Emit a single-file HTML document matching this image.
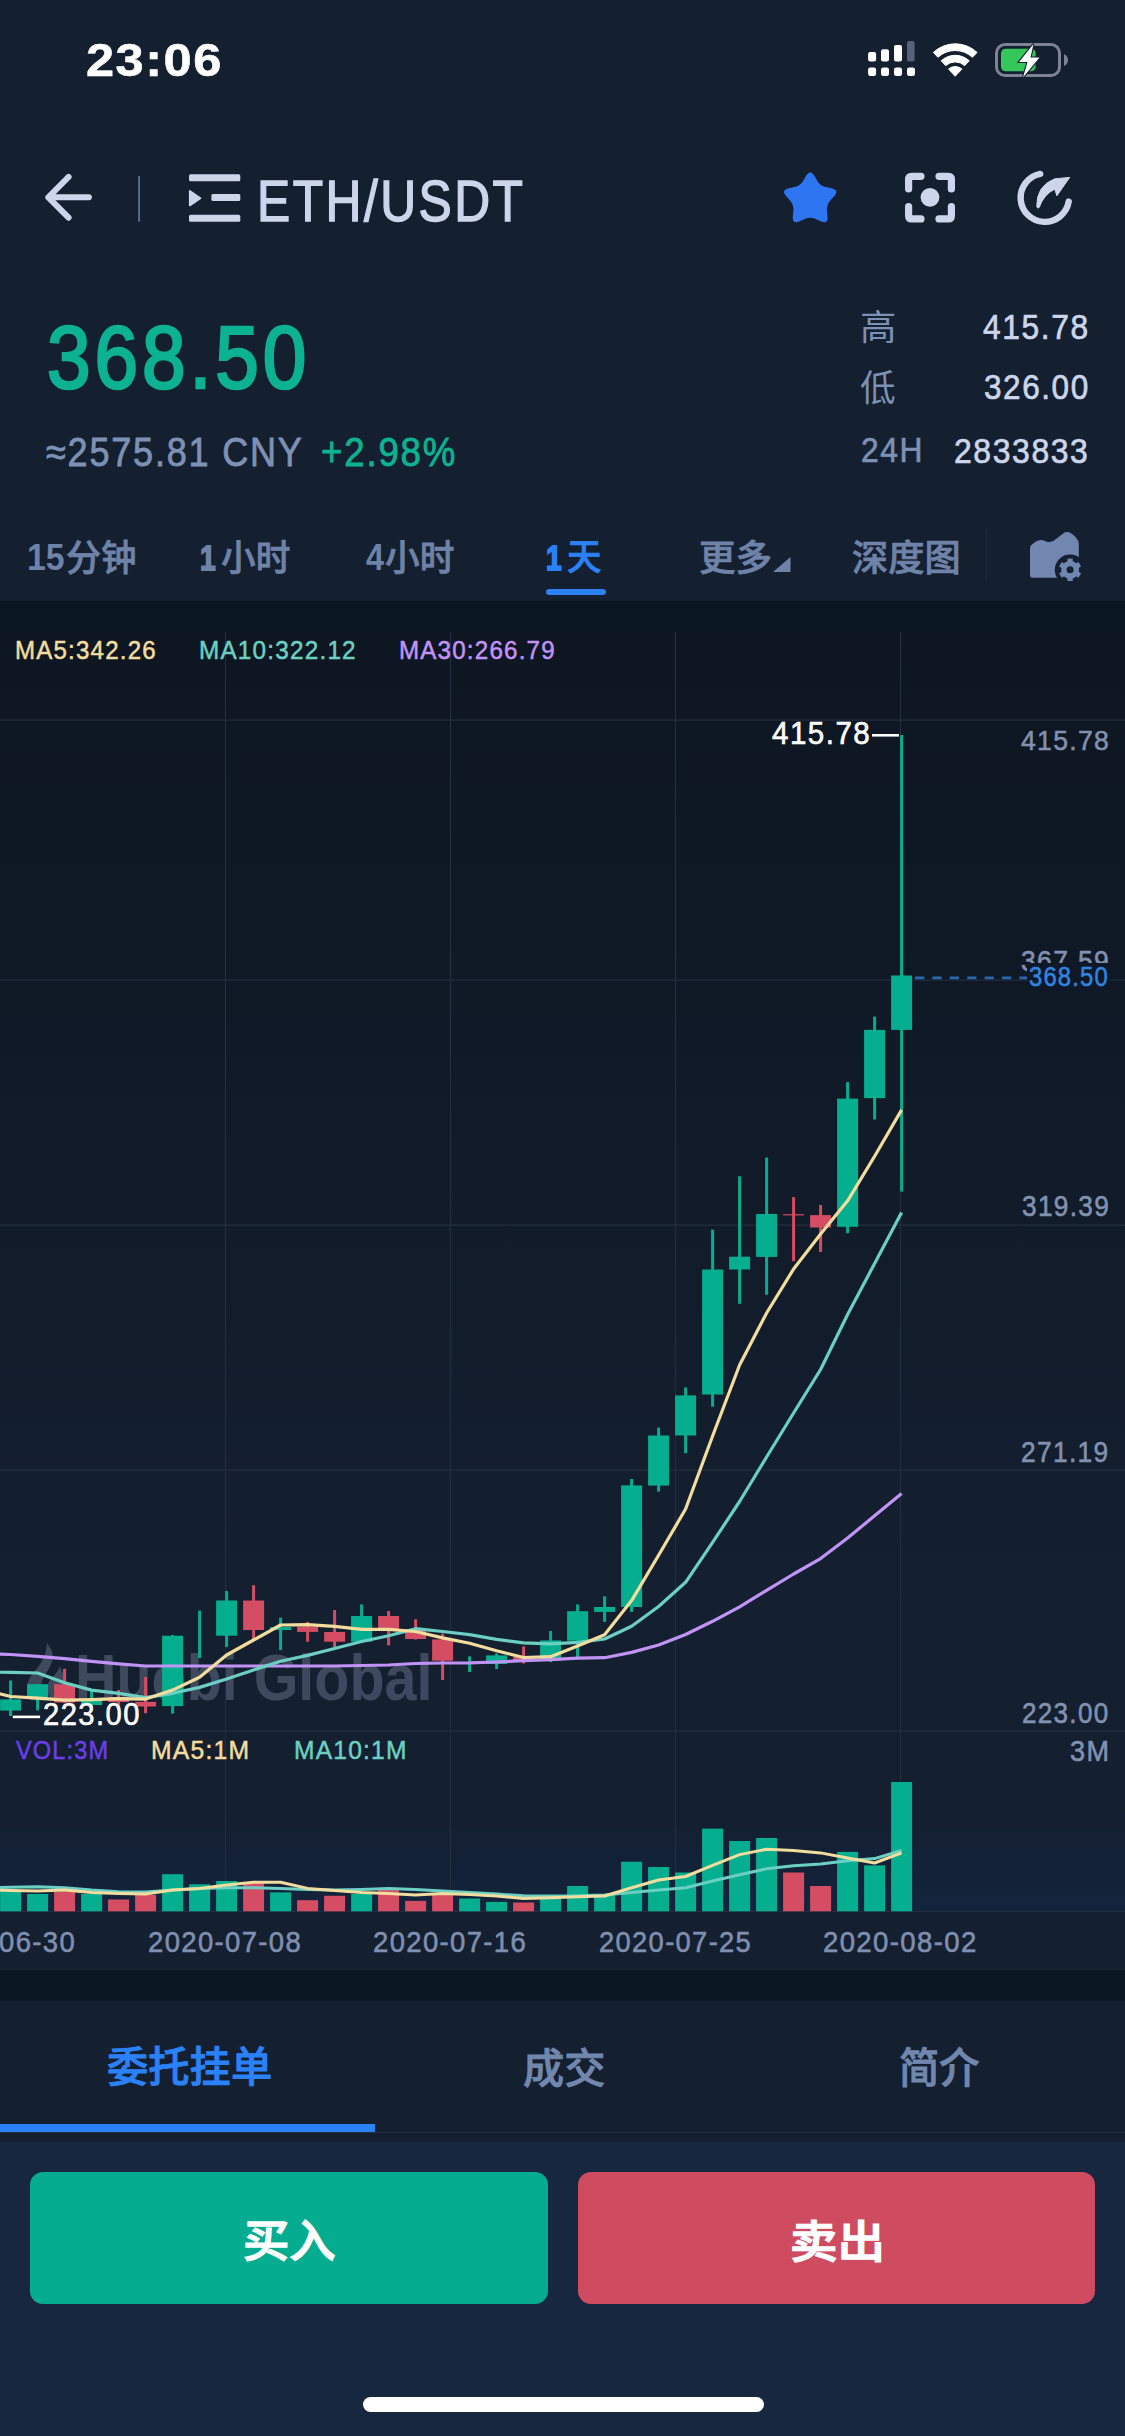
<!DOCTYPE html>
<html lang="zh-CN"><head><meta charset="utf-8"><title>ETH/USDT</title>
<style>
html,body{margin:0;padding:0;background:#141f30;}
body{width:1125px;height:2436px;position:relative;overflow:hidden;font-family:'Liberation Sans', 'Noto Sans CJK SC', sans-serif;}
.abs{position:absolute;}
.t{position:absolute;line-height:1;white-space:pre;transform-origin:0 0;display:block;}
svg{position:absolute;left:0;top:0;}
</style></head><body>
<div class="abs" style="left:0;top:0;width:1125px;height:601px;background:#141f30"></div>
<div class="abs" style="left:0;top:601px;width:1125px;height:1400px;background:#0a1722"></div>
<div class="abs" style="left:0;top:632px;width:1125px;height:1337px;background:linear-gradient(180deg,#0d1621 0%,#141f30 72.4%,#141f30 100%)"></div>
<div class="abs" style="left:0;top:1810px;width:1125px;height:101px;background:linear-gradient(180deg,rgba(18,38,66,0) 0%,rgba(18,38,66,0.7) 100%)"></div>
<div class="abs" style="left:0;top:2001px;width:1125px;height:141px;background:#141f30"></div>
<div class="abs" style="left:0;top:2131.6px;width:1125px;height:1.4px;background:#242f40"></div>
<div class="abs" style="left:0;top:1969.3px;width:1125px;height:1.2px;background:#1b2735"></div>
<div class="abs" style="left:0;top:2142px;width:1125px;height:294px;background:#182740"></div>
<span class="t" style="left:75.27px;top:1645.94px;font-size:64.93px;color:#8893ad;font-weight:700;font-family:'Liberation Sans', sans-serif;transform:scaleX(0.8849);opacity:0.36;">Huobi Global</span>
<svg width="1125" height="2436" viewBox="0 0 1125 2436">
<g fill="#8893ad" opacity="0.36"><path d="M46.8,1642 C49,1647 54.5,1652 52.5,1660 C50,1670 42,1676 41,1686 C40.5,1692 43,1697 46,1700.5 L31,1700.5 C25,1694 26,1685 30,1678 C36,1668 47,1660 46.8,1642 Z"/><path d="M59.6,1666 C61,1670 65,1674 64.5,1682 C64,1690 58,1697 52,1700.5 C48,1696 46,1690 48,1684 C50,1677 58,1674 59.6,1666 Z"/></g>
<rect x="0" y="719.5" width="1125" height="1.2" fill="#232e3f"/><rect x="0" y="979.5" width="1125" height="1.2" fill="#232e3f"/><rect x="0" y="1224.5" width="1125" height="1.2" fill="#232e3f"/><rect x="0" y="1469.5" width="1125" height="1.2" fill="#232e3f"/><rect x="0" y="1730.5" width="1125" height="1.2" fill="#232e3f"/><rect x="0" y="1911.0" width="1125" height="1.2" fill="#232e3f"/><rect x="224.9" y="632" width="1.2" height="1280" fill="#232e3f"/><rect x="449.9" y="632" width="1.2" height="1280" fill="#232e3f"/><rect x="674.9" y="632" width="1.2" height="1280" fill="#232e3f"/><rect x="899.9" y="632" width="1.2" height="1280" fill="#232e3f"/>
<rect x="900.1" y="735.0" width="3.0" height="456.6" fill="#06ae90"/><rect x="891.1" y="975.5" width="21.0" height="54.4" fill="#06ae90"/><rect x="873.1" y="1016.6" width="3.0" height="102.9" fill="#06ae90"/><rect x="864.1" y="1029.9" width="21.0" height="68.2" fill="#06ae90"/><rect x="846.1" y="1082.1" width="3.0" height="151.1" fill="#06ae90"/><rect x="837.1" y="1098.6" width="21.0" height="128.2" fill="#06ae90"/><rect x="819.1" y="1205.0" width="3.0" height="47.0" fill="#d54d63"/><rect x="810.1" y="1215.1" width="21.0" height="12.4" fill="#d54d63"/><rect x="792.1" y="1197.2" width="3.0" height="64.0" fill="#d54d63"/><rect x="783.1" y="1214.2" width="21.0" height="1.2" fill="#d54d63"/><rect x="765.1" y="1157.5" width="3.0" height="137.2" fill="#06ae90"/><rect x="756.1" y="1214.0" width="21.0" height="42.9" fill="#06ae90"/><rect x="738.1" y="1176.3" width="3.0" height="127.5" fill="#06ae90"/><rect x="729.1" y="1256.7" width="21.0" height="12.8" fill="#06ae90"/><rect x="711.1" y="1229.6" width="3.0" height="177.1" fill="#06ae90"/><rect x="702.1" y="1269.5" width="21.0" height="125.0" fill="#06ae90"/><rect x="684.1" y="1387.5" width="3.0" height="65.7" fill="#06ae90"/><rect x="675.1" y="1395.4" width="21.0" height="40.1" fill="#06ae90"/><rect x="657.1" y="1427.6" width="3.0" height="64.0" fill="#06ae90"/><rect x="648.1" y="1435.5" width="21.0" height="50.1" fill="#06ae90"/><rect x="630.1" y="1479.0" width="3.0" height="132.9" fill="#06ae90"/><rect x="621.1" y="1485.4" width="21.0" height="121.6" fill="#06ae90"/><rect x="603.1" y="1596.3" width="3.0" height="25.6" fill="#06ae90"/><rect x="594.1" y="1607.0" width="21.0" height="4.9" fill="#06ae90"/><rect x="576.1" y="1604.4" width="3.0" height="55.0" fill="#06ae90"/><rect x="567.1" y="1611.2" width="21.0" height="29.5" fill="#06ae90"/><rect x="549.1" y="1631.0" width="3.0" height="31.0" fill="#06ae90"/><rect x="540.1" y="1640.4" width="21.0" height="20.1" fill="#06ae90"/><rect x="522.1" y="1646.4" width="3.0" height="17.1" fill="#d54d63"/><rect x="513.1" y="1657.0" width="21.0" height="3.0" fill="#d54d63"/><rect x="495.1" y="1653.4" width="3.0" height="15.6" fill="#06ae90"/><rect x="486.1" y="1655.4" width="21.0" height="8.6" fill="#06ae90"/><rect x="468.1" y="1656.4" width="3.0" height="15.6" fill="#06ae90"/><rect x="441.1" y="1633.6" width="3.0" height="46.4" fill="#d54d63"/><rect x="432.1" y="1639.4" width="21.0" height="21.3" fill="#d54d63"/><rect x="414.1" y="1619.3" width="3.0" height="20.2" fill="#d54d63"/><rect x="405.1" y="1629.3" width="21.0" height="9.7" fill="#d54d63"/><rect x="387.1" y="1611.0" width="3.0" height="34.3" fill="#d54d63"/><rect x="378.1" y="1616.0" width="21.0" height="13.3" fill="#d54d63"/><rect x="360.1" y="1604.4" width="3.0" height="37.3" fill="#06ae90"/><rect x="351.1" y="1616.0" width="21.0" height="25.7" fill="#06ae90"/><rect x="333.1" y="1610.0" width="3.0" height="37.0" fill="#d54d63"/><rect x="324.1" y="1632.0" width="21.0" height="9.7" fill="#d54d63"/><rect x="306.1" y="1621.9" width="3.0" height="19.8" fill="#d54d63"/><rect x="297.1" y="1626.6" width="21.0" height="5.3" fill="#d54d63"/><rect x="279.1" y="1617.6" width="3.0" height="32.4" fill="#06ae90"/><rect x="270.1" y="1627.0" width="21.0" height="3.0" fill="#06ae90"/><rect x="252.1" y="1585.2" width="3.0" height="54.8" fill="#d54d63"/><rect x="243.1" y="1600.5" width="21.0" height="29.5" fill="#d54d63"/><rect x="225.1" y="1591.0" width="3.0" height="56.0" fill="#06ae90"/><rect x="216.1" y="1600.5" width="21.0" height="35.2" fill="#06ae90"/><rect x="198.1" y="1610.6" width="3.0" height="47.5" fill="#06ae90"/><rect x="171.1" y="1635.0" width="3.0" height="78.6" fill="#06ae90"/><rect x="162.1" y="1635.7" width="21.0" height="70.4" fill="#06ae90"/><rect x="144.1" y="1677.0" width="3.0" height="36.2" fill="#d54d63"/><rect x="135.1" y="1701.9" width="21.0" height="4.6" fill="#d54d63"/><rect x="117.1" y="1690.0" width="3.0" height="18.0" fill="#d54d63"/><rect x="108.1" y="1697.0" width="21.0" height="5.0" fill="#d54d63"/><rect x="90.1" y="1691.0" width="3.0" height="17.0" fill="#06ae90"/><rect x="81.1" y="1699.7" width="21.0" height="5.3" fill="#06ae90"/><rect x="63.1" y="1668.8" width="3.0" height="34.2" fill="#d54d63"/><rect x="54.1" y="1684.2" width="21.0" height="18.3" fill="#d54d63"/><rect x="36.1" y="1684.0" width="3.0" height="26.4" fill="#06ae90"/><rect x="27.1" y="1684.2" width="21.0" height="13.8" fill="#06ae90"/><rect x="9.1" y="1680.5" width="3.0" height="35.5" fill="#06ae90"/><rect x="0.1" y="1699.4" width="21.0" height="11.2" fill="#06ae90"/><rect x="891.1" y="1782.0" width="21.0" height="129.3" fill="#06ae90"/><rect x="864.1" y="1865.4" width="21.0" height="45.9" fill="#06ae90"/><rect x="837.1" y="1851.9" width="21.0" height="59.4" fill="#06ae90"/><rect x="810.1" y="1886.0" width="21.0" height="25.3" fill="#d54d63"/><rect x="783.1" y="1872.5" width="21.0" height="38.8" fill="#d54d63"/><rect x="756.1" y="1838.0" width="21.0" height="73.3" fill="#06ae90"/><rect x="729.1" y="1841.0" width="21.0" height="70.3" fill="#06ae90"/><rect x="702.1" y="1828.6" width="21.0" height="82.7" fill="#06ae90"/><rect x="675.1" y="1872.5" width="21.0" height="38.8" fill="#06ae90"/><rect x="648.1" y="1867.0" width="21.0" height="44.3" fill="#06ae90"/><rect x="621.1" y="1861.7" width="21.0" height="49.6" fill="#06ae90"/><rect x="594.1" y="1895.0" width="21.0" height="16.3" fill="#06ae90"/><rect x="567.1" y="1886.0" width="21.0" height="25.3" fill="#06ae90"/><rect x="540.1" y="1898.5" width="21.0" height="12.8" fill="#06ae90"/><rect x="513.1" y="1902.5" width="21.0" height="8.8" fill="#d54d63"/><rect x="486.1" y="1901.9" width="21.0" height="9.4" fill="#06ae90"/><rect x="459.1" y="1898.5" width="21.0" height="12.8" fill="#06ae90"/><rect x="432.1" y="1894.0" width="21.0" height="17.3" fill="#d54d63"/><rect x="405.1" y="1900.9" width="21.0" height="10.4" fill="#d54d63"/><rect x="378.1" y="1890.0" width="21.0" height="21.3" fill="#d54d63"/><rect x="351.1" y="1894.0" width="21.0" height="17.3" fill="#06ae90"/><rect x="324.1" y="1895.8" width="21.0" height="15.5" fill="#d54d63"/><rect x="297.1" y="1900.2" width="21.0" height="11.1" fill="#d54d63"/><rect x="270.1" y="1892.4" width="21.0" height="18.9" fill="#06ae90"/><rect x="243.1" y="1883.0" width="21.0" height="28.3" fill="#d54d63"/><rect x="216.1" y="1881.0" width="21.0" height="30.3" fill="#06ae90"/><rect x="189.1" y="1884.3" width="21.0" height="27.0" fill="#06ae90"/><rect x="162.1" y="1874.2" width="21.0" height="37.1" fill="#06ae90"/><rect x="135.1" y="1895.0" width="21.0" height="16.3" fill="#d54d63"/><rect x="108.1" y="1899.5" width="21.0" height="11.8" fill="#d54d63"/><rect x="81.1" y="1894.0" width="21.0" height="17.3" fill="#06ae90"/><rect x="54.1" y="1891.7" width="21.0" height="19.6" fill="#d54d63"/><rect x="27.1" y="1894.0" width="21.0" height="17.3" fill="#06ae90"/><rect x="0.1" y="1890.0" width="21.0" height="21.3" fill="#06ae90"/>
<polyline points="901.6,1493.4 874.6,1515.7 847.6,1538.1 820.6,1558.6 793.6,1574.0 766.6,1590.4 739.6,1606.8 712.6,1621.3 685.6,1634.5 658.6,1645.0 631.6,1652.4 604.6,1657.7 577.6,1658.2 550.6,1659.6 523.6,1660.7 496.6,1662.0 469.6,1662.8 442.6,1663.0 415.6,1663.5 388.6,1665.0 361.6,1665.5 334.6,1666.0 307.6,1666.0 280.6,1666.0 253.6,1666.0 226.6,1666.0 199.6,1666.0 172.6,1666.0 145.6,1666.0 118.6,1663.9 91.6,1661.3 64.6,1658.6 37.6,1656.4 10.6,1654.5 -16.4,1653.5" fill="none" stroke="#c293f6" stroke-width="3.2" stroke-linejoin="round"/><polyline points="901.6,1212.5 874.6,1263.5 847.6,1314.5 820.6,1369.5 793.6,1413.0 766.6,1457.0 739.6,1501.5 712.6,1542.4 685.6,1582.3 658.6,1606.5 631.6,1626.2 604.6,1639.0 577.6,1642.4 550.6,1643.9 523.6,1642.8 496.6,1639.4 469.6,1634.7 442.6,1631.5 415.6,1628.7 388.6,1635.7 361.6,1641.5 334.6,1648.5 307.6,1655.4 280.6,1661.3 253.6,1669.9 226.6,1679.0 199.6,1687.4 172.6,1693.3 145.6,1697.6 118.6,1693.3 91.6,1690.1 64.6,1682.7 37.6,1673.0 10.6,1672.4 -16.4,1672.0" fill="none" stroke="#6bd0c3" stroke-width="3.2" stroke-linejoin="round"/><polyline points="901.6,1109.9 874.6,1156.3 847.6,1200.8 820.6,1233.9 793.6,1269.0 766.6,1313.0 739.6,1365.0 712.6,1436.0 685.6,1509.0 658.6,1555.3 631.6,1600.6 604.6,1634.7 577.6,1646.0 550.6,1656.7 523.6,1657.5 496.6,1650.7 469.6,1643.2 442.6,1637.9 415.6,1631.5 388.6,1629.3 361.6,1629.3 334.6,1626.3 307.6,1624.6 280.6,1625.0 253.6,1640.0 226.6,1655.0 199.6,1677.3 172.6,1690.1 145.6,1699.1 118.6,1698.7 91.6,1699.7 64.6,1700.2 37.6,1698.2 10.6,1696.5 -16.4,1690.0" fill="none" stroke="#f3dd9e" stroke-width="3.2" stroke-linejoin="round"/><polyline points="901.6,1850.5 874.6,1858.6 847.6,1860.7 820.6,1864.0 793.6,1865.7 766.6,1868.8 739.6,1874.8 712.6,1881.0 685.6,1887.7 658.6,1890.0 631.6,1892.4 604.6,1895.0 577.6,1895.8 550.6,1896.0 523.6,1895.8 496.6,1894.0 469.6,1892.4 442.6,1891.0 415.6,1889.4 388.6,1888.4 361.6,1889.4 334.6,1890.0 307.6,1889.4 280.6,1888.4 253.6,1887.7 226.6,1887.7 199.6,1888.4 172.6,1890.0 145.6,1892.0 118.6,1891.7 91.6,1890.0 64.6,1887.7 37.6,1886.7 10.6,1887.2 -16.4,1887.7" fill="none" stroke="#6bd0c3" stroke-width="3" stroke-linejoin="round"/><polyline points="901.6,1852.9 874.6,1863.0 847.6,1858.0 820.6,1852.9 793.6,1850.5 766.6,1849.2 739.6,1854.6 712.6,1865.4 685.6,1876.5 658.6,1880.0 631.6,1887.7 604.6,1896.0 577.6,1896.8 550.6,1897.8 523.6,1898.5 496.6,1896.0 469.6,1894.4 442.6,1893.4 415.6,1895.0 388.6,1893.4 361.6,1892.4 334.6,1890.5 307.6,1888.4 280.6,1882.3 253.6,1882.3 226.6,1885.0 199.6,1888.4 172.6,1890.0 145.6,1894.0 118.6,1893.4 91.6,1892.4 64.6,1890.0 37.6,1891.0 10.6,1890.5 -16.4,1890.0" fill="none" stroke="#f3dd9e" stroke-width="3" stroke-linejoin="round"/>
<rect x="872" y="734" width="27" height="2.6" fill="#fff"/><rect x="12.8" y="1715.6" width="27.3" height="2.6" fill="#fff"/><line x1="915" y1="977.8" x2="1028" y2="977.8" stroke="#2968ad" stroke-width="2.8" stroke-dasharray="9.2 8.2"/>
</svg>
<span class="t" style="left:14.81px;top:637.25px;font-size:26.30px;color:#f3dd9e;font-weight:400;font-family:'Liberation Sans', sans-serif;transform:scaleX(0.9154);letter-spacing:0.05em;-webkit-text-stroke:0.02em #f3dd9e;">MA5:342.26</span>
<span class="t" style="left:199.30px;top:637.25px;font-size:26.30px;color:#6bd0c3;font-weight:400;font-family:'Liberation Sans', sans-serif;transform:scaleX(0.9235);letter-spacing:0.05em;-webkit-text-stroke:0.02em #6bd0c3;">MA10:322.12</span>
<span class="t" style="left:399.31px;top:637.25px;font-size:26.30px;color:#c293f6;font-weight:400;font-family:'Liberation Sans', sans-serif;transform:scaleX(0.9175);letter-spacing:0.05em;-webkit-text-stroke:0.02em #c293f6;">MA30:266.79</span>
<span class="t" style="left:1021.03px;top:727.01px;font-size:28.08px;color:#8291b0;font-weight:400;font-family:'Liberation Sans', sans-serif;transform:scaleX(0.9456);letter-spacing:0.05em;-webkit-text-stroke:0.02em #8291b0;">415.78</span>
<span class="t" style="left:1021.34px;top:946.62px;font-size:28.77px;color:#8291b0;font-weight:400;font-family:'Liberation Sans', sans-serif;transform:scaleX(0.9213);letter-spacing:0.05em;-webkit-text-stroke:0.02em #8291b0;">367.59</span>
<span class="t" style="left:1021.64px;top:1192.46px;font-size:29.18px;color:#8291b0;font-weight:400;font-family:'Liberation Sans', sans-serif;transform:scaleX(0.8988);letter-spacing:0.05em;-webkit-text-stroke:0.02em #8291b0;">319.39</span>
<span class="t" style="left:1021.25px;top:1437.32px;font-size:29.45px;color:#8291b0;font-weight:400;font-family:'Liberation Sans', sans-serif;transform:scaleX(0.8946);letter-spacing:0.05em;-webkit-text-stroke:0.02em #8291b0;">271.19</span>
<span class="t" style="left:1021.96px;top:1698.34px;font-size:29.32px;color:#8291b0;font-weight:400;font-family:'Liberation Sans', sans-serif;transform:scaleX(0.8886);letter-spacing:0.05em;-webkit-text-stroke:0.02em #8291b0;">223.00</span>
<span class="t" style="left:1069.62px;top:1737.40px;font-size:28.90px;color:#8291b0;font-weight:400;font-family:'Liberation Sans', sans-serif;transform:scaleX(0.9363);letter-spacing:0.05em;-webkit-text-stroke:0.02em #8291b0;">3M</span>
<span class="t" style="left:772.20px;top:718.08px;font-size:30.55px;color:#ffffff;font-weight:400;font-family:'Liberation Sans', sans-serif;transform:scaleX(0.9675);letter-spacing:0.05em;-webkit-text-stroke:0.02em #ffffff;">415.78</span>
<span class="t" style="left:42.53px;top:1699.86px;font-size:30.68px;color:#ffffff;font-weight:400;font-family:'Liberation Sans', sans-serif;transform:scaleX(0.9505);letter-spacing:0.05em;-webkit-text-stroke:0.02em #ffffff;">223.00</span>
<span class="t" style="left:15.94px;top:1738.26px;font-size:25.48px;color:#6a3fe8;font-weight:400;font-family:'Liberation Sans', sans-serif;transform:scaleX(0.9234);letter-spacing:0.05em;-webkit-text-stroke:0.02em #6a3fe8;">VOL:3M</span>
<span class="t" style="left:151.27px;top:1737.95px;font-size:25.83px;color:#f3dd9e;font-weight:400;font-family:'Liberation Sans', sans-serif;transform:scaleX(0.9551);letter-spacing:0.05em;-webkit-text-stroke:0.02em #f3dd9e;">MA5:1M</span>
<span class="t" style="left:294.28px;top:1738.26px;font-size:25.48px;color:#6bd0c3;font-weight:400;font-family:'Liberation Sans', sans-serif;transform:scaleX(0.9635);letter-spacing:0.05em;-webkit-text-stroke:0.02em #6bd0c3;">MA10:1M</span>
<span class="t" style="left:-77.60px;top:1928.43px;font-size:28.63px;color:#7f8fb0;font-weight:400;font-family:'Liberation Sans', sans-serif;transform:scaleX(0.9585);letter-spacing:0.05em;-webkit-text-stroke:0.02em #7f8fb0;">2020-06-30</span>
<span class="t" style="left:148.20px;top:1928.43px;font-size:28.63px;color:#7f8fb0;font-weight:400;font-family:'Liberation Sans', sans-serif;transform:scaleX(0.9588);letter-spacing:0.05em;-webkit-text-stroke:0.02em #7f8fb0;">2020-07-08</span>
<span class="t" style="left:373.20px;top:1928.43px;font-size:28.63px;color:#7f8fb0;font-weight:400;font-family:'Liberation Sans', sans-serif;transform:scaleX(0.9588);letter-spacing:0.05em;-webkit-text-stroke:0.02em #7f8fb0;">2020-07-16</span>
<span class="t" style="left:598.81px;top:1928.43px;font-size:28.63px;color:#7f8fb0;font-weight:400;font-family:'Liberation Sans', sans-serif;transform:scaleX(0.9528);letter-spacing:0.05em;-webkit-text-stroke:0.02em #7f8fb0;">2020-07-25</span>
<span class="t" style="left:822.90px;top:1928.43px;font-size:28.63px;color:#7f8fb0;font-weight:400;font-family:'Liberation Sans', sans-serif;transform:scaleX(0.9616);letter-spacing:0.05em;-webkit-text-stroke:0.02em #7f8fb0;">2020-08-02</span>
<div class="abs" style="left:1027px;top:962.5px;width:83px;height:27.5px;background:#0e1826"></div>
<span class="t" style="left:1029.40px;top:963.30px;font-size:27.40px;color:#2f86e0;font-weight:400;font-family:'Liberation Sans', sans-serif;transform:scaleX(0.8690);letter-spacing:0.05em;-webkit-text-stroke:0.02em #2f86e0;">368.50</span>
<div class="abs" style="left:546px;top:589.4px;width:59.5px;height:6px;border-radius:3px;background:#2b82f8"></div>
<div class="abs" style="left:985.8px;top:530px;width:1.3px;height:50px;background:#202b3e"></div>
<div class="abs" style="left:0;top:2124px;width:375px;height:8.2px;background:#2b82f8"></div>
<div class="abs" style="left:30.4px;top:2172px;width:518px;height:131.7px;border-radius:13px;background:#05ac8f"></div>
<div class="abs" style="left:578.3px;top:2172px;width:516.4px;height:131.7px;border-radius:13px;background:#cf4c60"></div>
<div class="abs" style="left:362.7px;top:2397px;width:401.3px;height:15px;border-radius:7.5px;background:#fff"></div>
<span class="t" style="left:86.08px;top:36.61px;font-size:46.39px;color:#ffffff;font-weight:700;font-family:'Liberation Sans', sans-serif;transform:scaleX(1.0894);letter-spacing:0.03em;-webkit-text-stroke:0.012em #ffffff;">23:06</span>
<span class="t" style="left:256.52px;top:173.21px;font-size:57.08px;color:#ccd5ea;font-weight:400;font-family:'Liberation Sans', sans-serif;transform:scaleX(0.8709);letter-spacing:0.05em;-webkit-text-stroke:0.025em #ccd5ea;">ETH/USDT</span>
<span class="t" style="left:47.13px;top:313.81px;font-size:88.38px;color:#0cb291;font-weight:400;font-family:'Liberation Sans', sans-serif;transform:scaleX(0.8872);letter-spacing:0.05em;-webkit-text-stroke:0.03em #0cb291;">368.50</span>
<span class="t" style="left:46.26px;top:431.73px;font-size:40.55px;color:#7d91b4;font-weight:400;font-family:'Liberation Sans', sans-serif;transform:scaleX(0.8883);letter-spacing:0.05em;-webkit-text-stroke:0.02em #7d91b4;">≈2575.81 CNY</span>
<span class="t" style="left:320.54px;top:431.73px;font-size:40.55px;color:#0cb291;font-weight:400;font-family:'Liberation Sans', sans-serif;transform:scaleX(0.9030);letter-spacing:0.05em;-webkit-text-stroke:0.02em #0cb291;">+2.98%</span>
<span class="t" style="left:859.82px;top:310.40px;font-size:35.38px;color:#7d91b4;font-weight:400;font-family:'Liberation Sans', 'Noto Sans CJK SC', sans-serif;transform:scaleX(1.0279);">高</span>
<span class="t" style="left:860.29px;top:371.42px;font-size:36.32px;color:#7d91b4;font-weight:400;font-family:'Liberation Sans', 'Noto Sans CJK SC', sans-serif;transform:scaleX(0.9817);">低</span>
<span class="t" style="left:860.73px;top:432.81px;font-size:35.45px;color:#7d91b4;font-weight:400;font-family:'Liberation Sans', sans-serif;transform:scaleX(0.8965);letter-spacing:0.05em;-webkit-text-stroke:0.02em #7d91b4;">24H</span>
<span class="t" style="left:983.18px;top:308.75px;font-size:35.21px;color:#ccd5ea;font-weight:400;font-family:'Liberation Sans', sans-serif;transform:scaleX(0.9022);letter-spacing:0.05em;-webkit-text-stroke:0.02em #ccd5ea;">415.78</span>
<span class="t" style="left:983.91px;top:370.41px;font-size:35.48px;color:#ccd5ea;font-weight:400;font-family:'Liberation Sans', sans-serif;transform:scaleX(0.8876);letter-spacing:0.05em;-webkit-text-stroke:0.02em #ccd5ea;">326.00</span>
<span class="t" style="left:954.42px;top:432.85px;font-size:35.21px;color:#ccd5ea;font-weight:400;font-family:'Liberation Sans', sans-serif;transform:scaleX(0.9066);letter-spacing:0.05em;-webkit-text-stroke:0.02em #ccd5ea;">2833833</span>
<span class="t" style="left:26.67px;top:538.84px;font-size:37.14px;color:#6f83a8;font-weight:700;font-family:'Liberation Sans', sans-serif;transform:scaleX(0.9088);">15</span>
<span class="t" style="left:66.42px;top:541.36px;font-size:36.34px;color:#6f83a8;font-weight:500;font-family:'Liberation Sans', 'Noto Sans CJK SC', sans-serif;transform:scaleX(0.9697);-webkit-text-stroke:0.02em #6f83a8;">分钟</span>
<span class="t" style="left:199.70px;top:540.03px;font-size:35.14px;color:#6f83a8;font-weight:700;font-family:'Liberation Sans', sans-serif;transform:scaleX(0.8000);-webkit-text-stroke:0.05em #6f83a8;">1</span>
<span class="t" style="left:221.48px;top:541.18px;font-size:36.72px;color:#6f83a8;font-weight:500;font-family:'Liberation Sans', 'Noto Sans CJK SC', sans-serif;transform:scaleX(0.9448);-webkit-text-stroke:0.02em #6f83a8;">小时</span>
<span class="t" style="left:365.51px;top:538.76px;font-size:37.68px;color:#6f83a8;font-weight:700;font-family:'Liberation Sans', sans-serif;transform:scaleX(0.8582);">4</span>
<span class="t" style="left:385.48px;top:541.18px;font-size:36.72px;color:#6f83a8;font-weight:500;font-family:'Liberation Sans', 'Noto Sans CJK SC', sans-serif;transform:scaleX(0.9448);-webkit-text-stroke:0.02em #6f83a8;">小时</span>
<span class="t" style="left:546.40px;top:540.03px;font-size:35.14px;color:#2b82f8;font-weight:700;font-family:'Liberation Sans', sans-serif;transform:scaleX(0.8000);-webkit-text-stroke:0.05em #2b82f8;">1</span>
<span class="t" style="left:566.61px;top:540.10px;font-size:36.70px;color:#2b82f8;font-weight:500;font-family:'Liberation Sans', 'Noto Sans CJK SC', sans-serif;transform:scaleX(0.9381);-webkit-text-stroke:0.02em #2b82f8;">天</span>
<span class="t" style="left:699.09px;top:541.25px;font-size:36.77px;color:#6f83a8;font-weight:500;font-family:'Liberation Sans', 'Noto Sans CJK SC', sans-serif;transform:scaleX(0.9908);-webkit-text-stroke:0.02em #6f83a8;">更多</span>
<span class="t" style="left:852.08px;top:541.43px;font-size:36.58px;color:#6f83a8;font-weight:500;font-family:'Liberation Sans', 'Noto Sans CJK SC', sans-serif;transform:scaleX(0.9894);-webkit-text-stroke:0.02em #6f83a8;">深度图</span>
<span class="t" style="left:107.09px;top:2047.12px;font-size:41.88px;color:#2b82f8;font-weight:500;font-family:'Liberation Sans', 'Noto Sans CJK SC', sans-serif;transform:scaleX(0.9864);-webkit-text-stroke:0.02em #2b82f8;">委托挂单</span>
<span class="t" style="left:523.38px;top:2047.94px;font-size:41.43px;color:#7187ad;font-weight:500;font-family:'Liberation Sans', 'Noto Sans CJK SC', sans-serif;transform:scaleX(0.9938);-webkit-text-stroke:0.02em #7187ad;">成交</span>
<span class="t" style="left:898.50px;top:2047.75px;font-size:42.29px;color:#7187ad;font-weight:500;font-family:'Liberation Sans', 'Noto Sans CJK SC', sans-serif;transform:scaleX(0.9494);-webkit-text-stroke:0.02em #7187ad;">简介</span>
<span class="t" style="left:242.77px;top:2220.22px;font-size:44.71px;color:#ffffff;font-weight:500;font-family:'Liberation Sans', 'Noto Sans CJK SC', sans-serif;transform:scaleX(1.0365);-webkit-text-stroke:0.03em #ffffff;">买入</span>
<span class="t" style="left:790.04px;top:2220.66px;font-size:44.25px;color:#ffffff;font-weight:500;font-family:'Liberation Sans', 'Noto Sans CJK SC', sans-serif;transform:scaleX(1.0742);-webkit-text-stroke:0.03em #ffffff;">卖出</span>
<svg width="1125" height="2436" viewBox="0 0 1125 2436">
<g fill="#fff">
<rect x="868.1" y="52" width="8" height="9.6" rx="2"/>
<rect x="881" y="49.2" width="8" height="12.4" rx="2"/>
<rect x="894" y="45" width="8" height="16.6" rx="2"/>
<rect x="907" y="41" width="7.6" height="20.6" rx="2" fill="#57617a"/>
<rect x="868.1" y="67.4" width="8" height="8.5" rx="2.2"/>
<rect x="881" y="67.4" width="8" height="8.5" rx="2.2"/>
<rect x="894" y="67.4" width="8" height="8.5" rx="2.2"/>
<rect x="907" y="67.4" width="8" height="8.5" rx="2.2"/>
</g>
<path d="M933.38,52.40 A32.0,32.0 0 0 1 977.02,52.40 L972.45,57.30 A25.3,25.3 0 0 0 937.95,57.30 Z" fill="#fff" stroke="#fff" stroke-width="1" stroke-linejoin="round"/>
<path d="M941.22,60.81 A20.5,20.5 0 0 1 969.18,60.81 L964.68,65.63 A13.9,13.9 0 0 0 945.72,65.63 Z" fill="#fff" stroke="#fff" stroke-width="1" stroke-linejoin="round"/>
<path d="M955.20,75.80 L948.86,69.00 A9.3,9.3 0 0 1 961.54,69.00 Z" fill="#fff" stroke="#fff" stroke-width="1.2" stroke-linejoin="round"/>
<rect x="996.5" y="44.5" width="63" height="31" rx="8.5" fill="none" stroke="#7c8496" stroke-width="3"/>
<path d="M1064,54 Q1068,56 1068,60 Q1068,64 1064,66 Z" fill="#7c8496"/>
<rect x="1001" y="48.8" width="34.6" height="22.4" rx="4.5" fill="#34c759"/>
<path d="M1033.5,44 L1019,62 L1027.5,62 L1023,77.5 L1039.5,57.5 L1030.5,57.5 Z" fill="#fff" stroke="#141f30" stroke-width="2.2" paint-order="stroke"/>
<g fill="none" stroke="#ccd5ea" stroke-width="6" stroke-linecap="round" stroke-linejoin="round">
<path d="M88.9,197.3 L49,197.3 M68.6,176.9 L48.3,197.3 L68.6,217.7"/>
</g>
<rect x="138.2" y="176" width="1.8" height="45.6" fill="#5a7199"/>
<g fill="#ccd5ea">
<rect x="189" y="174.3" width="51.3" height="7" rx="1.5"/>
<rect x="211.4" y="193.9" width="28.9" height="7" rx="1.5"/>
<rect x="189" y="214.7" width="51.3" height="7" rx="1.5"/>
<path d="M189.8,191 L200.4,198.2 L189.8,205.4 Z" stroke="#ccd5ea" stroke-width="1.8" stroke-linejoin="round"/>
</g>
<path d="M806.00,175.84 Q810.20,168.60 814.40,175.84 L817.19,180.67 Q820.19,185.85 826.04,187.10 L831.50,188.27 Q839.68,190.02 834.09,196.25 L830.36,200.40 Q826.37,204.85 826.98,210.80 L827.56,216.35 Q828.42,224.68 820.77,221.29 L815.67,219.02 Q810.20,216.60 804.73,219.02 L799.63,221.29 Q791.98,224.68 792.84,216.35 L793.42,210.80 Q794.03,204.85 790.04,200.40 L786.31,196.25 Q780.72,190.02 788.90,188.27 L794.36,187.10 Q800.21,185.85 803.21,180.67 Z" fill="#2e75f2"/>
<g fill="none" stroke="#ccd5ea" stroke-width="7.2" stroke-linecap="round" stroke-linejoin="round">
<path d="M908.6,189 L908.6,179.5 Q908.6,176.3 911.8,176.3 L921,176.3"/>
<path d="M939,176.3 L948.2,176.3 Q951.4,176.3 951.4,179.5 L951.4,189"/>
<path d="M951.4,206.5 L951.4,215.7 Q951.4,218.9 948.2,218.9 L939,218.9"/>
<path d="M921,218.9 L911.8,218.9 Q908.6,218.9 908.6,215.7 L908.6,206.5"/>
</g>
<circle cx="930" cy="197.3" r="9.4" fill="#ccd5ea"/>
<path d="M1040.2,173.9 A24.2,24.2 0 1 0 1068.7,201.6" fill="none" stroke="#ccd5ea" stroke-width="6.4" stroke-linecap="round"/>
<path d="M1069.7,177.4 L1056.9,195.8 L1054.8,189.2 Q1044,194 1039.2,207.4 Q1038,209 1036.8,207 Q1036,186 1054.8,178.8 Z" fill="#ccd5ea" stroke="#ccd5ea" stroke-width="1" stroke-linejoin="round"/>
<path d="M1030,575.6 L1030,548 Q1030.2,545.5 1032.2,544.2 Q1036,540.6 1040.5,540 Q1043.5,540 1046,541.4 Q1049.8,542.6 1053.3,541.1 L1064.5,532.6 Q1067.6,531.2 1071.5,533.4 Q1076.5,537 1078,540.5 Q1078.8,542 1078.8,544.5 L1078.8,577.8 L1032.2,577.8 Q1030,577.8 1030,575.6 Z" fill="#7187b0"/>
<circle cx="1070.1" cy="569.8" r="15.3" fill="#141f30"/>
<g transform="translate(1070.1,569.8)">
<circle r="6.3" fill="none" stroke="#7187b0" stroke-width="5.4"/>
<g stroke="#7187b0" stroke-width="5.2" stroke-linecap="butt">
<line x1="0" y1="-11.2" x2="0" y2="11.2"/>
<line x1="0" y1="-11.2" x2="0" y2="11.2" transform="rotate(60)"/>
<line x1="0" y1="-11.2" x2="0" y2="11.2" transform="rotate(120)"/>
</g>
<circle r="3.5" fill="#141f30"/>
</g>
<path d="M773,572 L790.5,572 L790.5,557 Z" fill="#6f83a8"/>
</svg>
</body></html>
